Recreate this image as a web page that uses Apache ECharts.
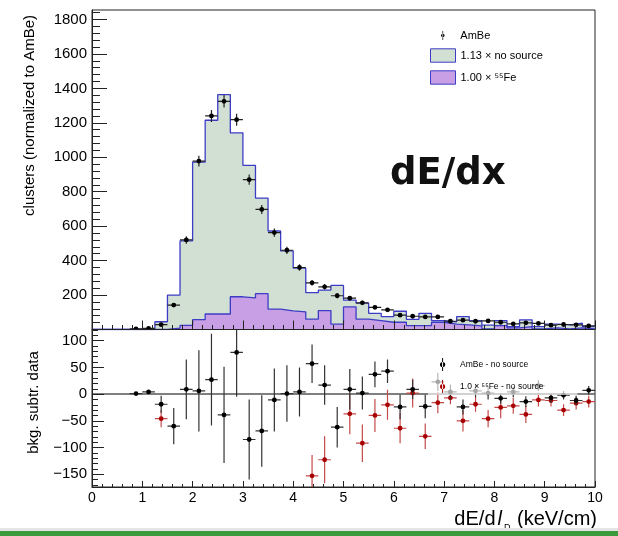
<!DOCTYPE html>
<html>
<head>
<meta charset="utf-8">
<script src="https://cdn.jsdelivr.net/npm/echarts@6/dist/echarts.min.js"></script>
<style>
html,body{margin:0;padding:0;background:#fff;}
#chart{width:618px;height:536px;}
</style>
</head>
<body>
<div id="chart"></div>
<script>
// ---------- data (40 bins of 0.25 keV/cm from 0 to 10) ----------
const binWidth = 0.25;
const xMin = 0, xMax = 10;
const noSource = [0,0,0,0,0,45,200,515,972,1215,1364,1142,953,763,572,456,356,214,229,256,171,153,94,75,106,59,94,52,44,75,52,25,52,17,56,17,31,27,37,17];
const fe55 = [0,0,0,0,0,0,8,24,57,90,90,190,184,208,118,108,102,60,110,31,131,60,52,42,42,23,23,42,31,27,21,4,23,10,17,4,10,4,10,4];
const ambe = [null,null,null,4,6,28,142,520,978,1240,1325,1218,870,697,563,460,360,271,248,196,182,155,129,114,83,77,73,73,48,54,48,50,42,33,39,35,25,29,27,21];
const ambeErr = [null,null,null,3,3,6,12,22,31,35,36,35,30,26,24,21,19,16,16,14,13,12,11,11,9,9,9,9,7,7,7,7,6,6,6,6,5,5,5,5];
const diffAmBe = [null,null,null,1,4,-19,-60,9,6,27,-39,78,-85,-69,-11,1,4,57,17,-62,9,2,37,43,-24,9,-23,23,4,-24,6,2,-8,4,-14,16,-7,-2,-12,7];
const diffAmBeErr = [null,null,null,3,3,16,34,56,76,86,90,83,75,67,59,53,46,36,37,38,38,31,24,22,23,18,22,17,14,14,12,12,10,10,10,10,9,8,9,8];
const diffFe = [null,null,null,null,null,-46,null,null,null,null,null,null,null,null,null,null,null,-153,-123,null,-37,-92,-40,-20,-64,2,-79,-16,-7,-50,-19,-46,-25,-22,-38,-11,-12,-30,-17,-14];
const diffFeErr = [null,null,null,null,null,16,null,null,null,null,null,null,null,null,null,null,null,39,44,null,38,35,31,28,28,27,24,20,12,20,14,16,20,15,16,12,11,11,12,11];
const topYLabels = [200,400,600,800,1000,1200,1400,1600,1800];
const topYMajor = [0,200,400,600,800,1000,1200,1400,1600,1800];
const botYLabels = [-150,-100,-50,0,50,100];
const topYMax = 1855;
const botYMin = -174, botYMax = 121;

// ---------- styles ----------
const font = 'Liberation Sans, Arial, Helvetica, sans-serif';
const blue = '#3c3cc6';
const green = '#d1e0d3';
const purple = '#c89fe4';
const axisColor = '#222';

function stepData(vals){
  const d = vals.map((v,i)=>[i*binWidth, v]);
  d.push([vals.length*binWidth, vals[vals.length-1]]);
  return d;
}
function pointData(vals, errs){
  const out = [];
  vals.forEach((v,i)=>{ if(v!==null) out.push([(i+0.5)*binWidth, v, errs[i]]); });
  return out;
}
function errRender(markColor, barColor){
  return function(params, api){
    const x = api.value(0), y = api.value(1), e = api.value(2);
    const p = api.coord([x,y]);
    const l = api.coord([x-binWidth/2,y]), r = api.coord([x+binWidth/2,y]);
    const t = api.coord([x,y+e]), b = api.coord([x,y-e]);
    return {type:'group', children:[
      {type:'line', shape:{x1:l[0],y1:l[1],x2:r[0],y2:r[1]}, style:{stroke:barColor,lineWidth:1.2}},
      {type:'line', shape:{x1:t[0],y1:t[1],x2:b[0],y2:b[1]}, style:{stroke:barColor,lineWidth:1.2}},
      {type:'circle', shape:{cx:p[0],cy:p[1],r:2.4}, style:{fill:markColor}}
    ]};
  };
}
function minorList(lo, hi, step, majorStep){
  const out=[];
  for(let v=lo; v<=hi; v+=step){ if(Math.abs(v % majorStep) > 1e-9) out.push(v); }
  return out;
}

const ambeIcon = 'path://M3.4,0 L4.6,0 L4.6,16 L3.4,16 Z M0.8,8 A3.2,3.2 0 1,0 7.2,8 A3.2,3.2 0 1,0 0.8,8 Z';

const chart = echarts.init(document.getElementById('chart'), null, {renderer:'canvas'});

const xCommon = {type:'value', min:xMin, max:xMax, interval:1, z:10,
  axisLine:{show:true, onZero:false, lineStyle:{color:axisColor,width:1}},
  splitLine:{show:false}};

const option = {
  animation:false,
  backgroundColor:'#fff',
  grid:[
    {left:92, right:23, top:10, height:319.5, show:true, borderColor:axisColor, borderWidth:1, backgroundColor:'transparent'},
    {left:92, right:23, top:329.5, height:157.5, show:true, borderColor:axisColor, borderWidth:1, backgroundColor:'transparent'}
  ],
  xAxis:[
    Object.assign({}, xCommon, {gridIndex:0,
      axisTick:{inside:true,length:9,lineStyle:{color:axisColor}},
      minorTick:{show:true,splitNumber:5,length:4.5,lineStyle:{color:axisColor}},
      axisLabel:{show:false}}),
    Object.assign({}, xCommon, {gridIndex:1,
      axisTick:{inside:true,length:6,lineStyle:{color:axisColor}},
      minorTick:{show:true,splitNumber:5,length:3,lineStyle:{color:axisColor}},
      axisLabel:{show:true,fontSize:14,fontFamily:font,color:'#000',margin:4}})
  ],
  yAxis:[
    {type:'value', gridIndex:0, min:0, max:topYMax, position:'left', z:10,
      axisLine:{show:true,onZero:false,lineStyle:{color:axisColor}},
      axisTick:{show:true,inside:true,length:15,customValues:topYMajor,lineStyle:{color:axisColor}},
      axisLabel:{show:true,customValues:topYLabels,fontSize:15,fontFamily:font,color:'#000',margin:5,
        formatter:v=>String(v)},
      splitLine:{show:false}},
    {type:'value', gridIndex:0, min:0, max:topYMax, position:'left', z:10,
      axisLine:{show:false},
      axisTick:{show:true,inside:true,length:8,customValues:minorList(40,1840,40,200),lineStyle:{color:axisColor}},
      axisLabel:{show:false}, splitLine:{show:false}},
    {type:'value', gridIndex:1, min:botYMin, max:botYMax, position:'left', z:10,
      axisLine:{show:true,onZero:false,lineStyle:{color:axisColor}},
      axisTick:{show:true,inside:true,length:12,customValues:botYLabels,lineStyle:{color:axisColor}},
      axisLabel:{show:true,customValues:botYLabels,fontSize:15,fontFamily:font,color:'#000',margin:5,
        formatter:v=>String(v).replace('-','\u2212')},
      splitLine:{show:false}},
    {type:'value', gridIndex:1, min:botYMin, max:botYMax, position:'left', z:10,
      axisLine:{show:false},
      axisTick:{show:true,inside:true,length:6,customValues:minorList(-170,120,10,50),lineStyle:{color:axisColor}},
      axisLabel:{show:false}, splitLine:{show:false}}
  ],
  legend:[
    {data:[{name:'AmBe', icon:ambeIcon}], orient:'vertical', left:441, top:30, itemWidth:25, itemHeight:9,
      padding:0, selectedMode:false, textStyle:{fontSize:11,fontFamily:font,color:'#000'}},
    {data:[{name:'1.13 × no source', icon:'rect', itemStyle:{color:green,borderColor:blue,borderWidth:1}},
           {name:'1.00 × \u2075\u2075Fe', icon:'rect', itemStyle:{color:purple,borderColor:blue,borderWidth:1}}],
      orient:'vertical', left:430, top:48.3, itemWidth:25, itemHeight:13.4, itemGap:7.6,
      padding:0, selectedMode:false, textStyle:{fontSize:11,fontFamily:font,color:'#000'}},
    {data:[{name:'AmBe - no source', icon:ambeIcon}, {name:'1.0 × \u2075\u2075Fe - no source', icon:ambeIcon}],
      orient:'vertical', left:428, top:352, itemWidth:25, itemHeight:13, itemGap:9, z:20,
      padding:[6,34,2,12], backgroundColor:'rgba(255,255,255,0.65)', selectedMode:false,
      textStyle:{fontSize:8.5,fontFamily:font,color:'#000'}}
  ],
  graphic:[
    {type:'text', x:30, y:15, rotation:Math.PI/2, silent:true,
      style:{text:'clusters (normalized to AmBe)', fontSize:15, fontFamily:font, fill:'#000', align:'right', verticalAlign:'middle'}},
    {type:'text', x:34, y:402.5, rotation:Math.PI/2, silent:true,
      style:{text:'bkg. subtr. data', fontSize:15, fontFamily:font, fill:'#000', align:'center', verticalAlign:'middle'}},
    {type:'text', x:597, y:519.5, silent:true,
      style:{text:'{m|dE/d}{i|l}{s|D}{m| (keV/cm)}', align:'right', verticalAlign:'middle', fill:'#000',
        rich:{m:{fontSize:20,fontFamily:font,fill:'#000'},
              i:{fontSize:20,fontFamily:font,fontStyle:'italic',fill:'#000',padding:[0,2,0,2]},
              s:{fontSize:9,fontFamily:font,fill:'#000',padding:[17,1,0,0]}}}},
    {type:'text', x:390, y:174, silent:true,
      style:{text:'dE/dx', fontSize:37, fontWeight:'bold', fontFamily:'DejaVu Sans', fill:'#111', align:'left', verticalAlign:'middle'}},
    {type:'rect', shape:{x:0,y:528,width:618,height:3}, style:{fill:'#e4e4e4'}, silent:true},
    {type:'rect', shape:{x:0,y:531,width:618,height:5}, style:{fill:'#3a9a3c'}, silent:true}
  ],
  series:[
    {type:'line', name:'1.13 × no source', xAxisIndex:0, yAxisIndex:0, step:'end', symbol:'none',
      data:stepData(noSource), z:2,
      itemStyle:{color:blue}, lineStyle:{color:blue,width:1.3}, areaStyle:{color:green,opacity:1}},
    {type:'line', name:'1.00 × \u2075\u2075Fe', xAxisIndex:0, yAxisIndex:0, step:'end', symbol:'none',
      data:stepData(fe55), z:3,
      itemStyle:{color:blue}, lineStyle:{color:blue,width:1.3}, areaStyle:{color:purple,opacity:1}},
    {type:'custom', name:'AmBe', xAxisIndex:0, yAxisIndex:0, clip:true, z:5,
      itemStyle:{color:'#000'}, encode:{x:0,y:1},
      data:pointData(ambe, ambeErr), renderItem:errRender('#000','#222')},
    {type:'line', name:'zero', xAxisIndex:1, yAxisIndex:2, symbol:'none', z:3, silent:true,
      data:[[xMin,0],[xMax,0]], lineStyle:{color:'#555',width:1.5}},
    {type:'custom', name:'1.0 × \u2075\u2075Fe - no source', xAxisIndex:1, yAxisIndex:2, clip:true, z:4,
      itemStyle:{color:'#a80000'}, encode:{x:0,y:1},
      data:pointData(diffFe, diffFeErr), renderItem:errRender('#a80000','#c44a4a')},
    {type:'custom', name:'AmBe - no source', xAxisIndex:1, yAxisIndex:2, clip:true, z:5,
      itemStyle:{color:'#000'}, encode:{x:0,y:1},
      data:pointData(diffAmBe, diffAmBeErr), renderItem:errRender('#000','#333')}
  ]
};
chart.setOption(option);
</script>
</body>
</html>
